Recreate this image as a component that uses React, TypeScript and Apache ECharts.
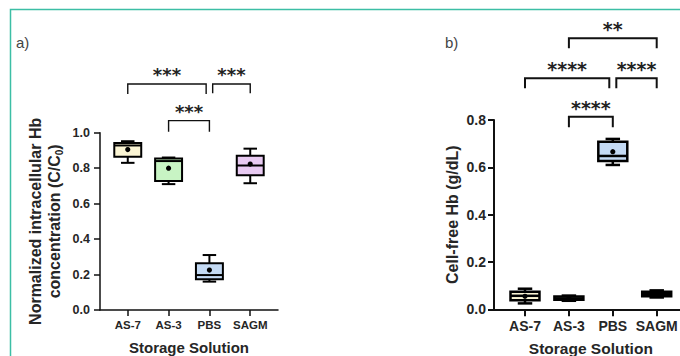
import React, { useEffect, useRef } from "react";
import * as echarts from "echarts";

const categories = ["AS-7", "AS-3", "PBS", "SAGM"];
const boxColors = ["#fbf5d4", "#c8f4c4", "#c4daf4", "#e8caf2"];

// Panel a) normalized intracellular Hb
const aMin = [0.83, 0.71, 0.16, 0.715];
const aQ1 = [0.865, 0.728, 0.173, 0.76];
const aMedian = [0.928, 0.84, 0.197, 0.815];
const aQ3 = [0.942, 0.855, 0.263, 0.87];
const aMax = [0.952, 0.86, 0.31, 0.91];
const aMean = [0.905, 0.8, 0.225, 0.823];

// Panel b) cell-free Hb (g/dL)
const bMin = [0.025, 0.036, 0.61, 0.05];
const bQ1 = [0.038, 0.04, 0.627, 0.055];
const bMedian = [0.057, 0.046, 0.648, 0.065];
const bQ3 = [0.074, 0.054, 0.708, 0.074];
const bMax = [0.087, 0.058, 0.72, 0.08];
const bMean = [0.055, 0.046, 0.666, 0.066];

const aTicks = [0, 0.2, 0.4, 0.6, 0.8, 1.0];
const bTicks = [0, 0.2, 0.4, 0.6, 0.8];

// significance brackets: [from, to, barValue, legValue]
const aSigPos = [
  [0, 1.92, 1.275, 1.218],
  [2.08, 3, 1.275, 1.222],
  [1, 2, 1.068, 1.006],
];
const aSigText = ["***", "***", "***"];
const bSigPos = [
  [0, 1.92, 0.976, 0.934],
  [2.08, 3, 0.976, 0.934],
  [1, 3, 1.145, 1.103],
  [1, 2, 0.814, 0.769],
];
const bSigText = ["****", "****", "**", "****"];

const FONT = "'Liberation Sans', Arial, sans-serif";
const TXT = "#262626";

function boxRenderer(lw: number) {
  return (params: any, api: any) => {
    const x = api.value(0);
    const mn = api.value(1), q1 = api.value(2), md = api.value(3), q3 = api.value(4), mx = api.value(5), mean = api.value(6);
    const unit = api.size([1, 0])[0];
    const bw = unit * 0.66;
    const cw = bw * 0.5;
    const cx = api.coord([x, 0])[0];
    const Y = (v: number) => api.coord([x, v])[1];
    const ls = { stroke: "#000", lineWidth: lw };
    return {
      type: "group",
      children: [
        { type: "line", shape: { x1: cx, y1: Y(mx), x2: cx, y2: Y(q3) }, style: ls },
        { type: "line", shape: { x1: cx, y1: Y(q1), x2: cx, y2: Y(mn) }, style: ls },
        { type: "line", shape: { x1: cx - cw / 2, y1: Y(mx), x2: cx + cw / 2, y2: Y(mx) }, style: ls },
        { type: "line", shape: { x1: cx - cw / 2, y1: Y(mn), x2: cx + cw / 2, y2: Y(mn) }, style: ls },
        {
          type: "rect",
          shape: { x: cx - bw / 2, y: Y(q3), width: bw, height: Y(q1) - Y(q3) },
          style: { fill: boxColors[params.dataIndex], stroke: "#000", lineWidth: lw },
        },
        { type: "line", shape: { x1: cx - bw / 2, y1: Y(md), x2: cx + bw / 2, y2: Y(md) }, style: ls },
        { type: "circle", shape: { cx, cy: Y(mean), r: 2.6 }, style: { fill: "#000" } },
      ],
    };
  };
}

function sigRenderer(texts: string[], lw: number, fs: number, spacingOffset: number) {
  return (params: any, api: any) => {
    const x1 = api.value(0), x2 = api.value(1), bar = api.value(2), leg = api.value(3);
    const p1 = api.coord([x1, leg]);
    const p2 = api.coord([x1, bar]);
    const p3 = api.coord([x2, bar]);
    const p4 = api.coord([x2, leg]);
    return {
      type: "group",
      children: [
        { type: "polyline", shape: { points: [p1, p2, p3, p4] }, style: { stroke: "#111", lineWidth: lw, fill: "none" } },
        {
          type: "text",
          x: (p2[0] + p3[0]) / 2,
          y: p2[1] - spacingOffset,
          style: {
            text: texts[params.dataIndex],
            fontSize: fs,
            fontWeight: "bold",
            fontFamily: "'DejaVu Sans', sans-serif",
            fill: "#222",
            align: "center",
            verticalAlign: "middle",
          },
        },
      ],
    };
  };
}

export default function App() {
  const ref = useRef<HTMLDivElement>(null);
  useEffect(() => {
    if (!ref.current) return;
    const chart = echarts.init(ref.current, null, { renderer: "svg" });
    const aData = categories.map((_, i) => [i, aMin[i], aQ1[i], aMedian[i], aQ3[i], aMax[i], aMean[i]]);
    const bData = categories.map((_, i) => [i, bMin[i], bQ1[i], bMedian[i], bQ3[i], bMax[i], bMean[i]]);
    const axisLineStyle = (w: number) => ({ color: "#111", width: w });
    const option: any = {
      animation: false,
      grid: [
        { left: 100, top: 132.7, width: 178, height: 177.3, containLabel: false, outerBoundsMode: "none" },
        { left: 494, top: 120, width: 193.7, height: 189.3, containLabel: false, outerBoundsMode: "none" },
      ],
      xAxis: [
        {
          gridIndex: 0,
          type: "value",
          min: -0.68,
          max: 3.68,
          splitLine: { show: false },
          axisLine: { show: true, onZero: false, lineStyle: axisLineStyle(1.5) },
          axisTick: { show: true, customValues: [0, 1, 2, 3], length: 6, lineStyle: axisLineStyle(1.5) },
          axisLabel: {
            customValues: [0, 1, 2, 3],
            formatter: (v: number) => categories[Math.round(v)],
            margin: 9,
            fontSize: 11.5,
            fontWeight: "bold",
            color: TXT,
            fontFamily: FONT,
          },
          name: "Storage Solution",
          nameLocation: "middle",
          nameGap: 30,
          nameTextStyle: { fontSize: 15, fontWeight: "bold", color: TXT, fontFamily: FONT },
        },
        {
          gridIndex: 1,
          type: "value",
          min: -0.706,
          max: 3.706,
          splitLine: { show: false },
          axisLine: { show: true, onZero: false, lineStyle: axisLineStyle(2) },
          axisTick: { show: true, customValues: [0, 1, 2, 3], length: 7, lineStyle: axisLineStyle(2) },
          axisLabel: {
            customValues: [0, 1, 2, 3],
            formatter: (v: number) => categories[Math.round(v)],
            margin: 10,
            fontSize: 14,
            fontWeight: "bold",
            color: TXT,
            fontFamily: FONT,
          },
          name: "Storage Solution",
          nameLocation: "middle",
          nameGap: 31,
          nameTextStyle: { fontSize: 15.5, fontWeight: "bold", color: TXT, fontFamily: FONT },
        },
      ],
      yAxis: [
        {
          gridIndex: 0,
          type: "value",
          min: 0,
          max: 1,
          interval: 0.2,
          splitLine: { show: false },
          axisLine: { show: true, onZero: false, lineStyle: axisLineStyle(1.5) },
          axisTick: { show: true, length: 6, lineStyle: axisLineStyle(1.5) },
          axisLabel: {
            formatter: (v: number) => (aTicks.includes(Math.round(v * 10) / 10) ? v.toFixed(1) : ""),
            margin: 10,
            fontSize: 12.5,
            fontWeight: "bold",
            color: TXT,
            fontFamily: FONT,
          },
          name: "{t|Normalized intracellular Hb}\n{t|concentration (C/C}{s|0}{t|)}",
          nameLocation: "middle",
          nameRotate: 90,
          nameGap: 36,
          nameTextStyle: {
            rich: {
              t: { fontSize: 16, fontWeight: "bold", color: TXT, fontFamily: FONT, lineHeight: 19 },
              s: { fontSize: 10, fontWeight: "bold", color: TXT, fontFamily: FONT, lineHeight: 10, verticalAlign: "bottom" },
            },
          },
        },
        {
          gridIndex: 1,
          type: "value",
          min: 0,
          max: 0.8,
          interval: 0.2,
          splitLine: { show: false },
          axisLine: { show: true, onZero: false, lineStyle: axisLineStyle(2) },
          axisTick: { show: true, length: 6, lineStyle: axisLineStyle(2) },
          axisLabel: {
            formatter: (v: number) => (bTicks.includes(Math.round(v * 10) / 10) ? v.toFixed(1) : ""),
            margin: 8,
            fontSize: 14,
            fontWeight: "bold",
            color: TXT,
            fontFamily: FONT,
          },
          name: "Cell-free Hb (g/dL)",
          nameLocation: "middle",
          nameRotate: 90,
          nameGap: 34,
          nameTextStyle: { fontSize: 16, fontWeight: "bold", color: TXT, fontFamily: FONT },
        },
      ],
      series: [
        {
          type: "custom",
          xAxisIndex: 0,
          yAxisIndex: 0,
          clip: false,
          data: aData,
          encode: { x: 0, y: [1, 2, 3, 4, 5] },
          renderItem: boxRenderer(2),
        },
        {
          type: "custom",
          xAxisIndex: 1,
          yAxisIndex: 1,
          clip: false,
          data: bData,
          encode: { x: 0, y: [1, 2, 3, 4, 5] },
          renderItem: boxRenderer(2.5),
        },
        {
          type: "custom",
          xAxisIndex: 0,
          yAxisIndex: 0,
          clip: false,
          data: aSigPos,
          encode: { x: [0, 1], y: [2, 3] },
          renderItem: sigRenderer(aSigText, 1.4, 18, 9),
        },
        {
          type: "custom",
          xAxisIndex: 1,
          yAxisIndex: 1,
          clip: false,
          data: bSigPos,
          encode: { x: [0, 1], y: [2, 3] },
          renderItem: sigRenderer(bSigText, 2, 19, 9),
        },
      ],
      graphic: [
        {
          type: "rect",
          shape: { x: 10.5, y: 9.5, width: 700, height: 400 },
          style: { fill: "none", stroke: "#3cbea5", lineWidth: 1.5 },
          silent: true,
        },
        {
          type: "text",
          x: 16,
          y: 42,
          style: { text: "a)", fontSize: 15, fontFamily: FONT, fill: "#444", verticalAlign: "middle" },
        },
        {
          type: "text",
          x: 445,
          y: 42,
          style: { text: "b)", fontSize: 15, fontFamily: FONT, fill: "#444", verticalAlign: "middle" },
        },
      ],
    };
    chart.setOption(option);
    return () => chart.dispose();
  }, []);
  return (
    <div
      ref={ref}
      style={{ position: "fixed", left: 0, top: 0, width: 680, height: 356, background: "#fff" }}
    />
  );
}
